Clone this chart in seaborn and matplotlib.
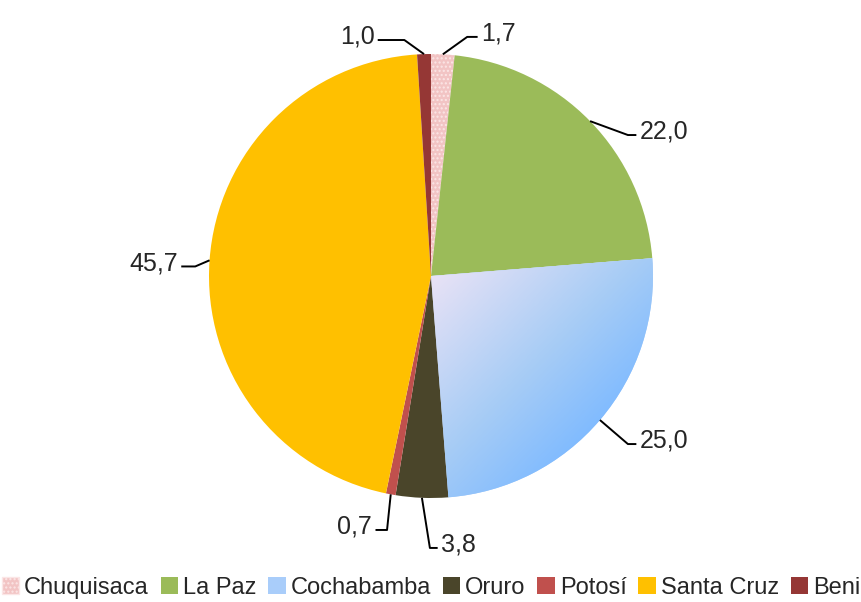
import matplotlib
matplotlib.use("Agg")
import matplotlib.pyplot as plt
import numpy as np
import seaborn as sns
from matplotlib.colors import LinearSegmentedColormap
from matplotlib.patches import Patch

departments = ["Chuquisaca", "La Paz", "Cochabamba", "Oruro", "Potosí", "Santa Cruz", "Beni"]
shares = [1.7, 22.0, 25.0, 3.8, 0.7, 45.7, 1.0]
labels = ["1,7", "22,0", "25,0", "3,8", "0,7", "45,7", "1,0"]
colors = ["#f2c4c4", "#9bbb59", "#a9cdfa", "#4a452a", "#c0504d", "#ffc000", "#953735"]

# text x position and elbow point, in pie units
label_x = [0.225, 0.94, 0.94, 0.045, -0.265, -1.14, -0.255]
elbows = [(0.163, 1.077), (0.887, 0.635), (0.887, -0.757), (-0.005, -1.225),
          (-0.198, -1.144), (-1.062, 0.043), (-0.12, 1.063)]

sns.set_style("white")
plt.rcParams["font.family"] = ["Liberation Sans", "DejaVu Sans"]

fig = plt.figure(figsize=(8.62, 6.02), dpi=100)
ax = fig.add_axes([(431 - 222) / 862, (326 - 222) / 602, 444 / 862, 444 / 602])

wedges, _ = ax.pie(shares, colors=colors, startangle=90, counterclock=False,
                   radius=1, wedgeprops=dict(linewidth=0))
ax.set_xlim(-1, 1)
ax.set_ylim(-1, 1)
ax.set_aspect("equal")
ax.axis("off")

# dotted pattern for Chuquisaca
wedges[0].set_hatch("....")
wedges[0].set_edgecolor("#fbe6e6")

# gradient for Cochabamba
cmap = LinearSegmentedColormap.from_list(
    "cbba", [(0, "#f4e6f6"), (0.45, "#a9cdf5"), (0.72, "#80bbff"), (1, "#76b5ff")])
gx, gy = np.meshgrid(np.linspace(-0.05, 1.02, 200), np.linspace(-1.02, 0.1, 200))
grad = (gx - gy)
grad = (grad - grad.min()) / (grad.max() - grad.min())
im = ax.imshow(grad, cmap=cmap, extent=(-0.05, 1.02, -1.02, 0.1), origin="lower",
               zorder=wedges[2].get_zorder() + 0.1)
im.set_clip_path(wedges[2])

for w, lab, tx, (ex, ey) in zip(wedges, labels, label_x, elbows):
    ang = np.deg2rad((w.theta1 + w.theta2) / 2)
    ax_, ay_ = np.cos(ang), np.sin(ang)
    right = tx > ex
    end_x = tx - 0.015 if right else tx + 0.015
    ax.plot([ax_, ex, end_x], [ay_, ey, ey], color="black", lw=1.4,
            clip_on=False, solid_capstyle="butt")
    ax.text(tx, ey + 0.015, lab, ha="left" if right else "right", va="center",
            fontsize=18, clip_on=False)

handles = [Patch(facecolor=c, edgecolor="none") for c in colors]
handles[0].set_hatch("....")
handles[0].set_edgecolor("#fbe6e6")
fig.legend(handles, departments, loc="lower center", ncol=7, frameon=False,
           fontsize=17, handlelength=0.75, handleheight=0.75, handletextpad=0.2,
           columnspacing=0.5, bbox_to_anchor=(0.5, -0.03))

fig.savefig("out.png", dpi=100)
